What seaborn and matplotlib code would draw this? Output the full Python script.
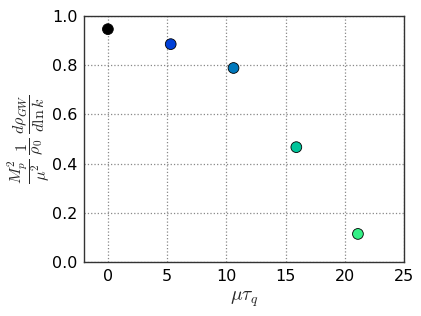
import matplotlib
matplotlib.use("Agg")
import matplotlib.pyplot as plt
import seaborn as sns
import pandas as pd

mu_tau = [0.0, 5.3, 10.6, 15.9, 21.1]
spectrum = [0.947, 0.886, 0.789, 0.467, 0.114]
colors = ["#000000", "#0040d8", "#0078bc", "#00c49a", "#33f086"]

sns.set_style("ticks")
plt.rcParams["font.family"] = ["DejaVu Sans"]
plt.rcParams["mathtext.fontset"] = "cm"

df = pd.DataFrame({"x": mu_tau, "y": spectrum, "c": [str(i) for i in range(len(mu_tau))]})

fig = plt.figure(figsize=(4.21, 3.16), dpi=100)
ax = fig.add_axes([0.2, 0.171, 0.76, 0.778])
sns.scatterplot(data=df, x="x", y="y", hue="c", palette=colors, s=60,
                edgecolor="black", linewidth=0.6, legend=False, ax=ax, zorder=3)
ax.set_xlim(-2, 25)
ax.set_ylim(0, 1.0)
ax.set_xticks([0, 5, 10, 15, 20, 25])
ax.set_yticks([0.0, 0.2, 0.4, 0.6, 0.8, 1.0])
ax.grid(True, linestyle=":", color="#888888", linewidth=0.9)
for s in ax.spines.values():
    s.set_color("#333333")
    s.set_linewidth(1.0)
ax.tick_params(direction="in", length=0, labelsize=11.5, colors="black", pad=5)
ax.set_xlabel(r"$\mu\tau_q$", fontsize=14, labelpad=4)
ax.set_ylabel(r"$\dfrac{M_p^2}{\mu^2}\;\dfrac{1}{\rho_0}\;\dfrac{d\rho_{GW}}{d\ln k}$", fontsize=11.5, labelpad=0)
fig.savefig("out.png", dpi=100)
